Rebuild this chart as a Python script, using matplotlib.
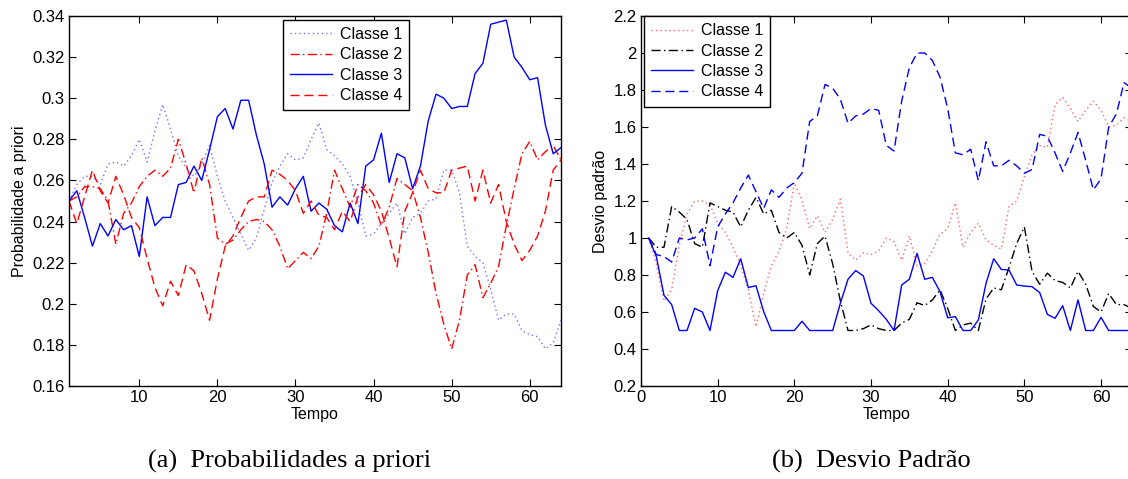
import matplotlib
matplotlib.use("Agg")
import matplotlib.pyplot as plt
import numpy as np

t_left = list(range(1, 65))
t_right = list(range(1, 65))

# ---- (a) Probabilidades a priori ----
prior_c1 = [0.250, 0.258, 0.262, 0.262, 0.258, 0.268, 0.269, 0.267, 0.272, 0.280,
            0.269, 0.284, 0.297, 0.285, 0.272, 0.266, 0.262, 0.268, 0.277, 0.262,
            0.250, 0.242, 0.234, 0.226, 0.232, 0.246, 0.259, 0.267, 0.273, 0.270,
            0.271, 0.280, 0.288, 0.275, 0.272, 0.268, 0.262, 0.249, 0.233, 0.234,
            0.239, 0.244, 0.249, 0.234, 0.242, 0.244, 0.250, 0.251, 0.265, 0.265,
            0.254, 0.228, 0.223, 0.220, 0.207, 0.192, 0.195, 0.195, 0.187, 0.185,
            0.184, 0.178, 0.181, 0.192]
prior_c2 = [0.250, 0.252, 0.257, 0.257, 0.256, 0.250, 0.229, 0.244, 0.249, 0.257,
            0.262, 0.265, 0.262, 0.266, 0.280, 0.268, 0.254, 0.271, 0.258, 0.232,
            0.229, 0.231, 0.236, 0.240, 0.241, 0.240, 0.236, 0.228, 0.217, 0.221,
            0.225, 0.222, 0.228, 0.244, 0.265, 0.256, 0.247, 0.258, 0.255, 0.249,
            0.238, 0.247, 0.261, 0.258, 0.255, 0.242, 0.225, 0.205, 0.190, 0.178,
            0.192, 0.214, 0.219, 0.203, 0.210, 0.218, 0.238, 0.256, 0.273, 0.279,
            0.270, 0.274, 0.277, 0.270]
prior_c3 = [0.250, 0.255, 0.242, 0.228, 0.239, 0.233, 0.241, 0.236, 0.238, 0.223,
            0.252, 0.238, 0.242, 0.242, 0.258, 0.259, 0.267, 0.260, 0.275, 0.291,
            0.295, 0.285, 0.299, 0.299, 0.282, 0.268, 0.247, 0.252, 0.248, 0.256,
            0.262, 0.245, 0.249, 0.246, 0.238, 0.235, 0.249, 0.239, 0.267, 0.270,
            0.283, 0.259, 0.273, 0.271, 0.256, 0.267, 0.289, 0.302, 0.300, 0.295,
            0.296, 0.296, 0.312, 0.317, 0.336, 0.337, 0.338, 0.320, 0.315, 0.309,
            0.310, 0.287, 0.273, 0.276]
prior_c4 = [0.250, 0.239, 0.252, 0.265, 0.255, 0.249, 0.262, 0.253, 0.242, 0.237,
            0.222, 0.208, 0.199, 0.211, 0.204, 0.219, 0.216, 0.205, 0.192, 0.212,
            0.228, 0.233, 0.242, 0.250, 0.252, 0.252, 0.265, 0.263, 0.260, 0.255,
            0.244, 0.250, 0.243, 0.242, 0.236, 0.245, 0.240, 0.252, 0.258, 0.253,
            0.245, 0.232, 0.218, 0.245, 0.254, 0.265, 0.256, 0.254, 0.254, 0.265,
            0.266, 0.267, 0.250, 0.265, 0.249, 0.258, 0.240, 0.229, 0.221, 0.226,
            0.233, 0.245, 0.265, 0.270]

# ---- (b) Desvio Padrao ----
std_c1 = [1.00, 0.86, 0.66, 0.72, 0.96, 1.13, 1.20, 1.20, 1.18, 1.08,
          1.03, 0.95, 0.85, 0.72, 0.52, 0.70, 0.85, 0.93, 1.05, 1.30,
          1.20, 1.05, 1.12, 1.03, 1.10, 1.21, 0.92, 0.88, 0.92, 0.91,
          0.93, 1.00, 0.98, 0.88, 1.01, 0.85, 0.86, 0.93, 1.02, 1.05,
          1.19, 0.95, 1.03, 1.08, 0.99, 0.96, 0.94, 1.17, 1.20, 1.33,
          1.45, 1.50, 1.49, 1.72, 1.76, 1.70, 1.63, 1.69, 1.74, 1.69,
          1.60, 1.61, 1.65, 1.63]
std_c2 = [1.00, 0.95, 0.95, 1.17, 1.14, 1.10, 0.97, 0.95, 1.19, 1.17,
          1.15, 1.14, 1.06, 1.15, 1.22, 1.13, 1.15, 1.03, 1.00, 1.03,
          0.96, 0.80, 0.97, 1.01, 0.86, 0.66, 0.50, 0.50, 0.51, 0.53,
          0.51, 0.50, 0.50, 0.54, 0.56, 0.65, 0.635, 0.665, 0.72, 0.62,
          0.50, 0.53, 0.54, 0.50, 0.67, 0.73, 0.72, 0.84, 0.97, 1.06,
          0.82, 0.75, 0.81, 0.77, 0.76, 0.73, 0.82, 0.75, 0.63, 0.60,
          0.70, 0.64, 0.64, 0.62]
std_c3 = [1.00, 0.90, 0.69, 0.64, 0.50, 0.50, 0.62, 0.60, 0.50, 0.715,
          0.815, 0.787, 0.888, 0.732, 0.742, 0.602, 0.50, 0.50, 0.50, 0.50,
          0.55, 0.50, 0.50, 0.50, 0.50, 0.647, 0.777, 0.824, 0.795, 0.647,
          0.607, 0.56, 0.50, 0.746, 0.777, 0.917, 0.777, 0.787, 0.71, 0.569,
          0.575, 0.50, 0.50, 0.557, 0.755, 0.888, 0.83, 0.827, 0.746, 0.74,
          0.737, 0.705, 0.587, 0.566, 0.634, 0.50, 0.665, 0.50, 0.50, 0.571,
          0.50, 0.50, 0.50, 0.50]
std_c4 = [1.00, 0.91, 0.90, 0.87, 1.00, 0.99, 1.00, 1.05, 0.85, 1.06,
          1.13, 1.19, 1.27, 1.34, 1.25, 1.16, 1.26, 1.22, 1.27, 1.30,
          1.35, 1.63, 1.66, 1.83, 1.81, 1.75, 1.62, 1.66, 1.67, 1.70,
          1.69, 1.50, 1.47, 1.74, 1.92, 2.00, 2.00, 1.96, 1.87, 1.70,
          1.46, 1.45, 1.48, 1.31, 1.52, 1.39, 1.39, 1.42, 1.39, 1.35,
          1.37, 1.56, 1.55, 1.46, 1.36, 1.46, 1.57, 1.42, 1.26, 1.32,
          1.60, 1.67, 1.84, 1.81]

labels = ["Classe 1", "Classe 2", "Classe 3", "Classe 4"]

left_yticks = [0.16, 0.18, 0.20, 0.22, 0.24, 0.26, 0.28, 0.30, 0.32, 0.34]
left_yticklabels = ["0.16", "0.18", "0.2", "0.22", "0.24", "0.26", "0.28", "0.3", "0.32", "0.34"]
left_xticks = [10, 20, 30, 40, 50, 60]
right_yticks = [0.2, 0.4, 0.6, 0.8, 1.0, 1.2, 1.4, 1.6, 1.8, 2.0, 2.2]
right_yticklabels = ["0.2", "0.4", "0.6", "0.8", "1", "1.2", "1.4", "1.6", "1.8", "2", "2.2"]
right_xticks = [0, 10, 20, 30, 40, 50, 60]

plt.rcParams['font.family'] = ['Liberation Sans', 'DejaVu Sans']

W, H = 1128, 479
fig = plt.figure(figsize=(W / 100, H / 100), dpi=100)

def ax_rect(l, r, t, b):
    return [l / W, 1 - b / H, (r - l) / W, (b - t) / H]

ax1 = fig.add_axes(ax_rect(69, 561, 16, 386))
ax2 = fig.add_axes(ax_rect(641, 1131.7, 16, 386))

lw = 1.0
DOT = (0, (1, 2.2))
DASHDOT = (0, (6.5, 2.5, 1, 2.5))
DASH = (0, (6.5, 3.5))

ax1.plot(t_left, prior_c1, color=(0.45, 0.45, 1.0), linestyle=DOT, lw=lw, label=labels[0])
ax1.plot(t_left, prior_c2, color='red', linestyle=DASHDOT, lw=lw, label=labels[1])
ax1.plot(t_left, prior_c3, color='blue', linestyle='-', lw=lw, label=labels[2])
ax1.plot(t_left, prior_c4, color='red', linestyle=DASH, lw=lw, label=labels[3])

ax2.plot(t_right, std_c1, color=(1.0, 0.4, 0.4), linestyle=DOT, lw=lw, label=labels[0])
ax2.plot(t_right, std_c2, color='black', linestyle=DASHDOT, lw=lw, label=labels[1])
ax2.plot(t_right, std_c3, color='blue', linestyle='-', lw=lw, label=labels[2])
ax2.plot(t_right, std_c4, color='blue', linestyle=DASH, lw=lw, label=labels[3])

ax1.set_xlim(1, 64)
ax1.set_ylim(0.16, 0.34)
ax1.set_xticks(left_xticks)
ax1.set_yticks(left_yticks)
ax1.set_yticklabels(left_yticklabels)

ax2.set_xlim(0, 64)
ax2.set_ylim(0.2, 2.2)
ax2.set_xticks(right_xticks)
ax2.set_yticks(right_yticks)
ax2.set_yticklabels(right_yticklabels)

for ax in (ax1, ax2):
    ax.tick_params(direction='in', top=True, right=True, length=5, width=0.8,
                   labelsize=12, pad=3, colors='black')
    for s in ax.spines.values():
        s.set_linewidth(1.0)
        s.set_color('black')
    ax.set_xlabel("Tempo", fontsize=11.5, labelpad=1)

ax1.set_ylabel("Probabilidade a priori", fontsize=11.5, labelpad=4)
ax2.set_ylabel("Desvio padrão", fontsize=11.5, labelpad=4)

leg_kw = dict(fontsize=11.5, frameon=True, fancybox=False, edgecolor='black',
              framealpha=1, handlelength=2.6, handletextpad=0.5, labelspacing=0.34,
              borderpad=0.45, borderaxespad=0, loc='upper left')
l1 = ax1.legend(bbox_to_anchor=(0.435, 0.99), **leg_kw)
l2 = ax2.legend(bbox_to_anchor=(0.006, 1.0), **leg_kw)
for l in (l1, l2):
    l.get_frame().set_linewidth(1.0)

fig.text(290 / W, 1 - 461 / H, "(a)  Probabilidades a priori", ha='center', va='center',
         fontsize=19, family=['Liberation Serif', 'DejaVu Serif'])
fig.text(871 / W, 1 - 461 / H, "(b)  Desvio Padrão", ha='center', va='center',
         fontsize=19, family=['Liberation Serif', 'DejaVu Serif'])

fig.savefig("out.png", dpi=100)
